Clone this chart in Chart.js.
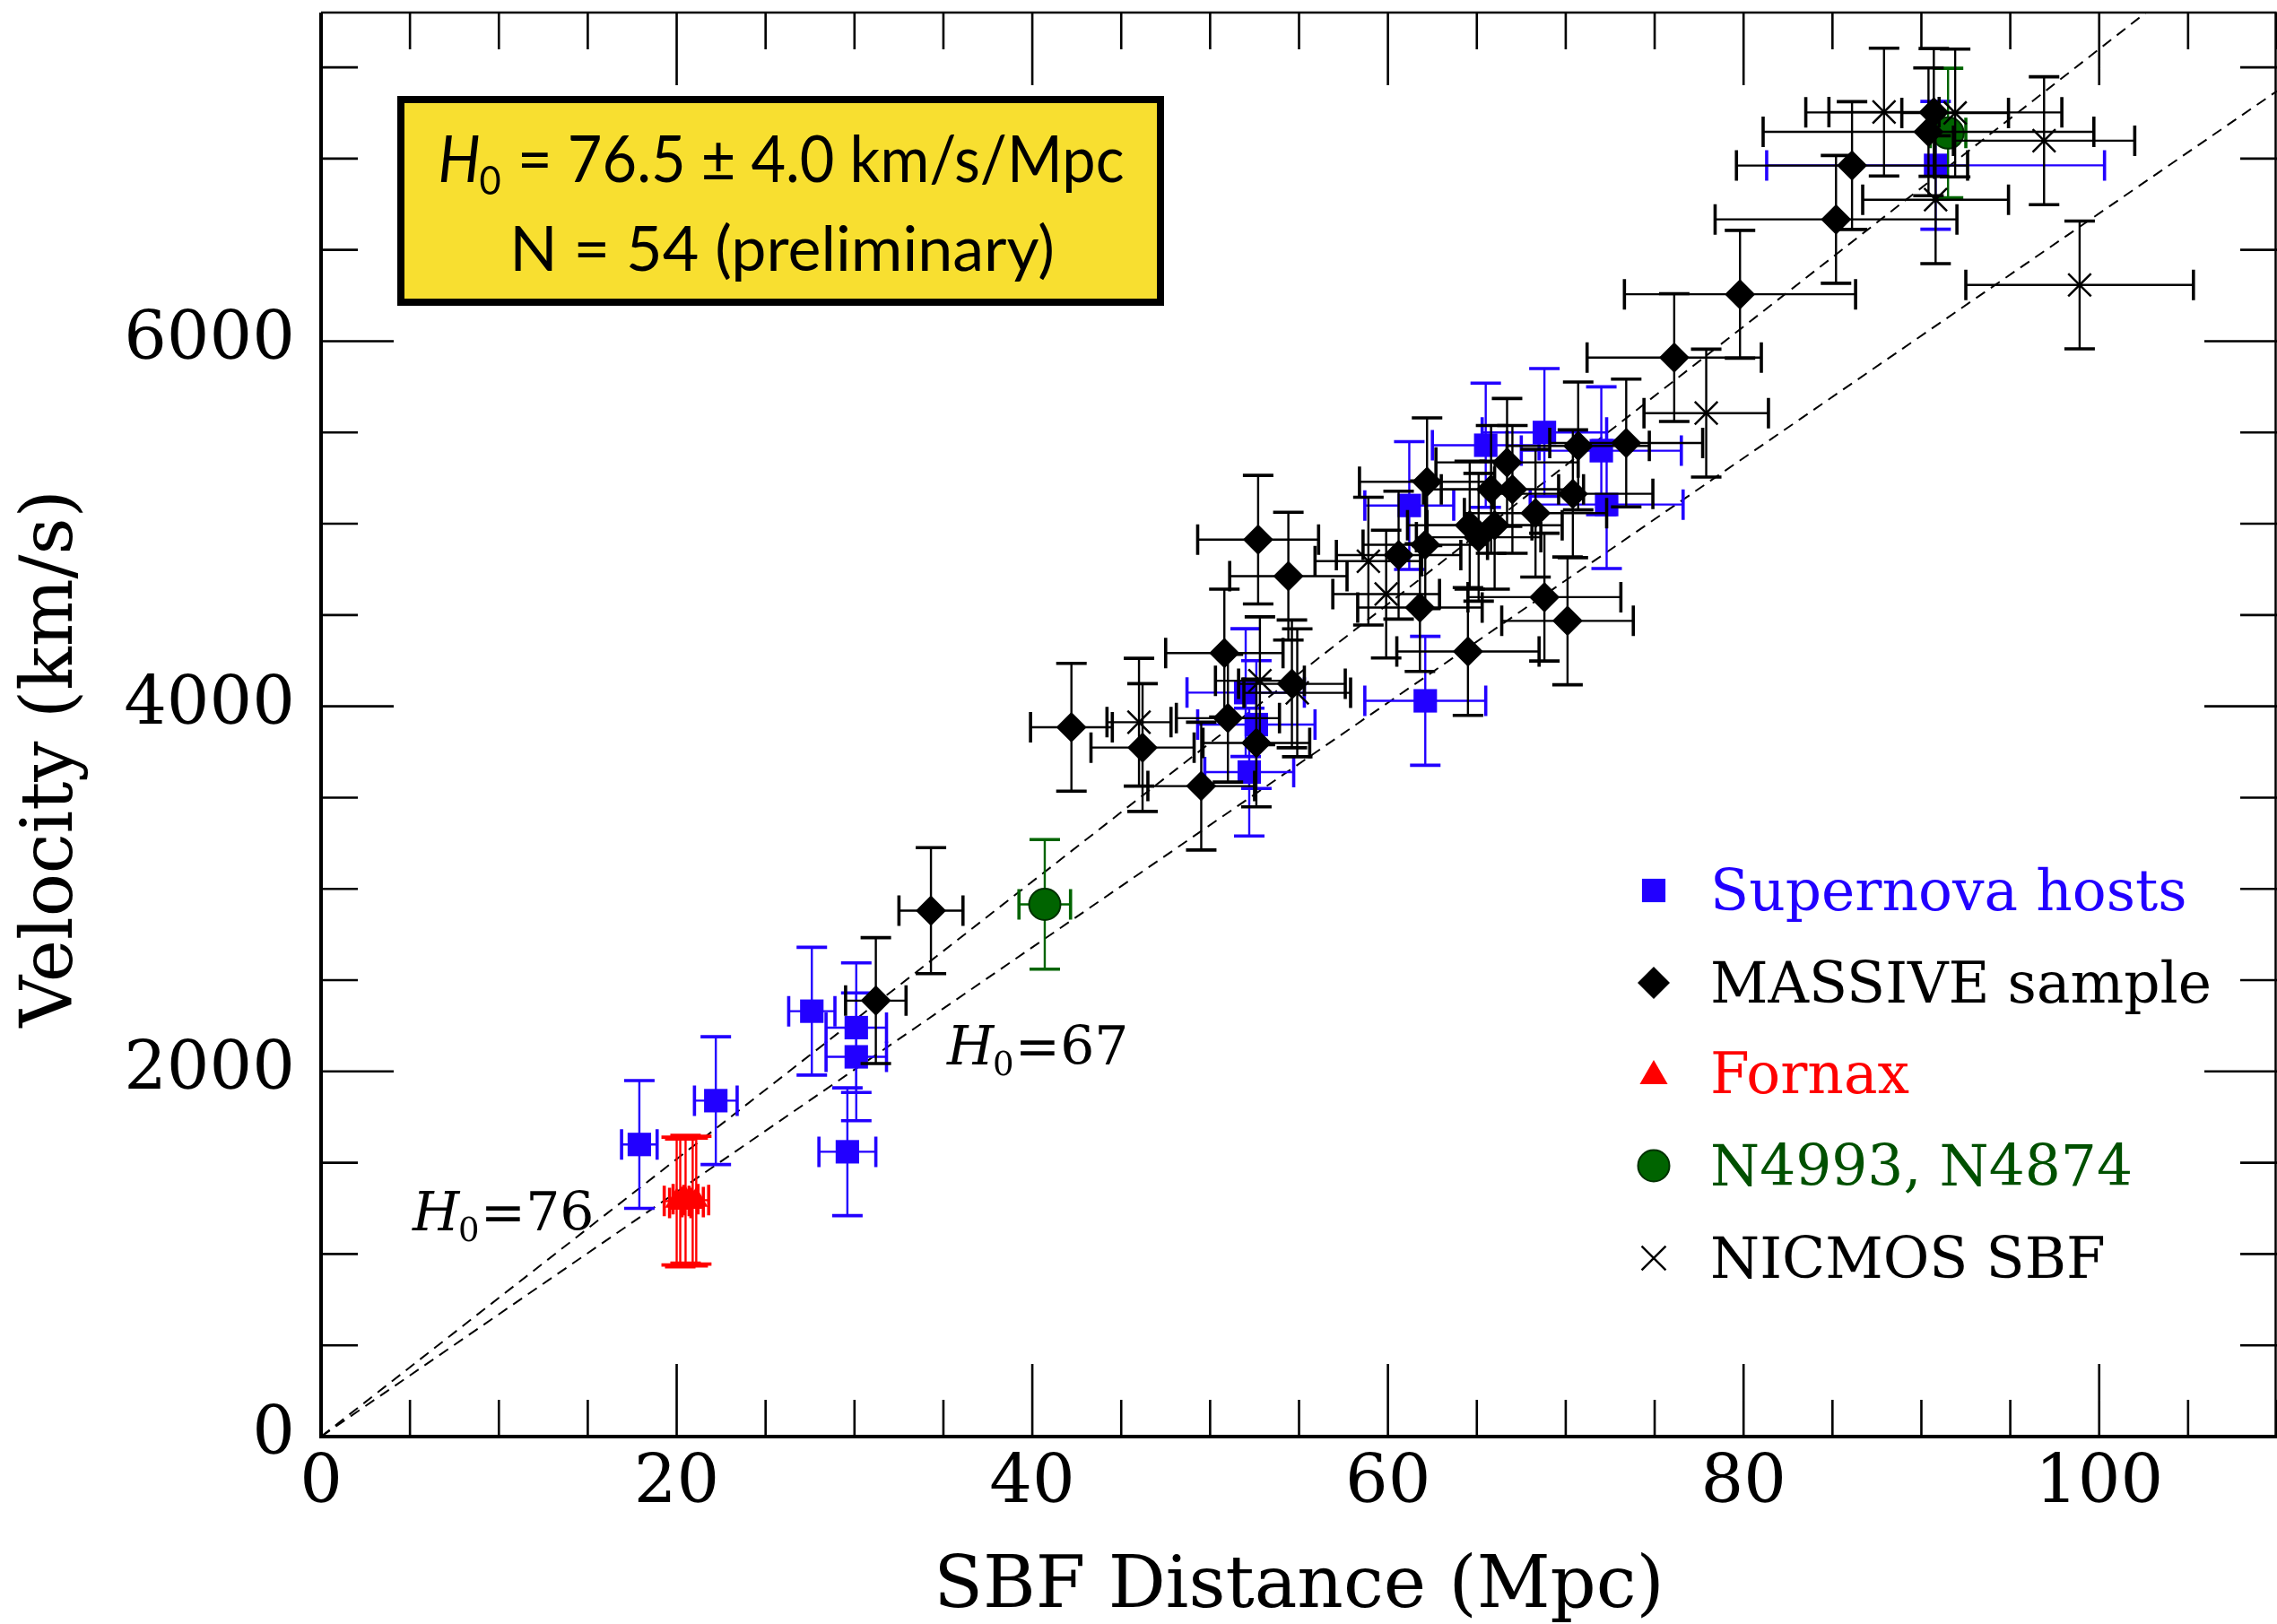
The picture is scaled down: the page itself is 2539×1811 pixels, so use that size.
<!DOCTYPE html>
<html>
<head>
<meta charset="utf-8">
<title>SBF Hubble diagram</title>
<script src="https://cdn.jsdelivr.net/npm/chart.js@4.4.0/dist/chart.umd.min.js"></script>
<style>
  html, body { margin: 0; padding: 0; background: #fff; overflow: hidden; }
  #wrap { width: 2539px; height: 1811px; position: relative; }
  canvas { display: block; }
</style>
</head>
<body>
<div id="wrap"><canvas id="myChart"></canvas></div>
<script>
// Supernova hosts (blue squares)
let snDist    = [17.9, 22.2, 27.6, 30.1, 30.1, 29.6, 52.0, 52.6, 52.2, 62.1, 61.2, 65.5, 68.8, 72.0, 72.3, 90.8]
let snVel     = [1600, 1840, 2330, 2240, 2080, 1560, 4075, 3900, 3640, 4030, 5100, 5430, 5500, 5400, 5105, 6963]
let snDistErr = [1.0, 1.2, 1.3, 1.7, 1.7, 1.6, 3.3, 3.3, 2.5, 3.4, 2.5, 3.0, 3.5, 4.5, 4.3, 9.5]
let snVelErr  = [350, 350, 350, 355, 350, 350, 350, 350, 350, 353, 350, 340, 350, 350, 350, 350]

// MASSIVE sample (black diamonds)
let msDist    = [31.2, 34.3, 42.2, 46.2, 49.5, 50.8, 51.0, 52.6, 52.7, 54.4, 54.6, 60.6, 61.8, 62.1, 62.2, 64.5, 64.6,
                 65.1, 66.0, 65.8, 66.7, 67.0, 68.3, 68.8, 70.1, 70.4, 70.7, 73.4, 76.1, 79.8, 85.2, 86.1, 90.4, 90.7]
let msVel     = [2388, 2881, 3885, 3774, 3563, 4292, 3935, 3799, 4913, 4713, 4123, 4828, 4541, 4885, 5230, 4300, 4992,
                 4926, 4992, 5188, 5336, 5188, 5058, 4598, 4468, 5164, 5426, 5442, 5910, 6257, 6667, 6962, 7147, 7253]
let msDistErr = [1.7, 1.8, 2.3, 2.9, 3.0, 3.3, 2.9, 3.0, 3.4, 3.3, 3.0, 3.5, 3.5, 3.5, 3.8, 4.0, 3.5,
                 3.5, 3.8, 3.8, 4.0, 4.0, 4.0, 4.3, 3.7, 4.5, 4.0, 4.3, 4.9, 6.5, 6.8, 6.5, 9.3, 7.2]
let msVelErr  = [345, 345, 350, 350, 350, 350, 350, 350, 352, 350, 350, 350, 350, 350, 350, 350, 350,
                 350, 350, 350, 350, 350, 350, 350, 350, 350, 350, 350, 350, 350, 350, 350, 350, 350]

// Fornax (red triangles)
let fxDist    = [20.0, 20.2, 20.5, 20.9, 21.1]
let fxVel     = [1290, 1280, 1300, 1285, 1295]
let fxDistErr = [0.7, 0.6, 0.7, 0.6, 0.7]
let fxVelErr  = [350, 350, 350, 350, 350]

// N4993, N4874 (green circles)
let grDist    = [40.7, 91.5]
let grVel     = [2915, 7140]
let grDistErr = [1.45, 1.0]
let grVelErr  = [355, 355]

// NICMOS SBF (crosses)
let nsDist    = [46.0, 52.8, 54.9, 58.9, 59.9, 77.9, 87.9, 91.9, 90.8, 96.9, 98.9]
let nsVel     = [3913, 4140, 4074, 4795, 4615, 5606, 7255, 7250, 6775, 7098, 6308]
let nsDistErr = [1.8, 2.5, 3.0, 3.0, 3.0, 3.5, 3.1, 3.0, 4.1, 5.1, 6.4]
let nsVelErr  = [350, 350, 350, 350, 350, 350, 350, 350, 350, 350, 350]

// Hubble lines and axes
let hubbleConstants = [76, 67]
let lineDist = [0, 110]
let xTickValues = [0, 20, 40, 60, 80, 100]
let yTickValues = [0, 2000, 4000, 6000]
let legendLabels = ["Supernova hosts", "MASSIVE sample", "Fornax", "N4993, N4874", "NICMOS SBF"]

const BLUE = "#2200ff"
const RED = "#ff0000"
const GREEN = "#006400"
const SERIF = "'DejaVu Serif', serif"

function toPoints(xs, ys) {
  return xs.map((x, i) => ({ x: x, y: ys[i] }))
}

// error bars drawn through the chart scales, just below each dataset's markers
const errorBars = {
  id: "errorBars",
  beforeDatasetDraw(chart, args) {
    let ds = chart.data.datasets[args.index]
    if (!ds.xErr) return
    let xs = chart.scales.x, ys = chart.scales.y, ctx = chart.ctx
    let cap = 17
    ctx.save()
    ctx.strokeStyle = ds.errColor
    ds.data.forEach((p, i) => {
      let px = xs.getPixelForValue(p.x), py = ys.getPixelForValue(p.y)
      let x0 = xs.getPixelForValue(p.x - ds.xErr[i]), x1 = xs.getPixelForValue(p.x + ds.xErr[i])
      let y0 = ys.getPixelForValue(p.y - ds.yErr[i]), y1 = ys.getPixelForValue(p.y + ds.yErr[i])
      ctx.lineWidth = 2.4
      ctx.beginPath()
      ctx.moveTo(x0, py); ctx.lineTo(x1, py)
      ctx.moveTo(px, y0); ctx.lineTo(px, y1)
      ctx.stroke()
      ctx.lineWidth = 3.6
      ctx.beginPath()
      ctx.moveTo(x0, py - cap); ctx.lineTo(x0, py + cap)
      ctx.moveTo(x1, py - cap); ctx.lineTo(x1, py + cap)
      ctx.moveTo(px - cap, y0); ctx.lineTo(px + cap, y0)
      ctx.moveTo(px - cap, y1); ctx.lineTo(px + cap, y1)
      ctx.stroke()
    })
    ctx.restore()
  }
}

// inward tick marks and the frame
const frame = {
  id: "frame",
  afterDatasetsDraw(chart) {
    let ctx = chart.ctx, a = chart.chartArea, x = chart.scales.x, y = chart.scales.y
    ctx.save()
    ctx.strokeStyle = "#000"
    ctx.lineWidth = 2.6
    ctx.beginPath()
    for (let v = 0; v <= 110; v += 5) {
      let px = x.getPixelForValue(v)
      let len = v % 20 === 0 ? 81 : 41
      ctx.moveTo(px, a.bottom); ctx.lineTo(px, a.bottom - len)
      ctx.moveTo(px, a.top); ctx.lineTo(px, a.top + len)
    }
    for (let v = 0; v <= 7800; v += 500) {
      let py = y.getPixelForValue(v)
      let len = v % 2000 === 0 ? 81 : 41
      ctx.moveTo(a.left, py); ctx.lineTo(a.left + len, py)
      ctx.moveTo(a.right, py); ctx.lineTo(a.right - len, py)
    }
    ctx.stroke()
    ctx.lineWidth = 2.5
    ctx.beginPath()
    ctx.moveTo(a.left, a.top); ctx.lineTo(a.right - 1.5, a.top); ctx.lineTo(a.right - 1.5, a.bottom)
    ctx.stroke()
    ctx.lineWidth = 4
    ctx.beginPath()
    ctx.moveTo(a.left, a.top); ctx.lineTo(a.left, a.bottom); ctx.lineTo(a.right, a.bottom)
    ctx.stroke()
    ctx.restore()
  }
}

function marker(ctx, style, x, y, r, fill, stroke, bw) {
  ctx.fillStyle = fill
  ctx.strokeStyle = stroke
  ctx.lineWidth = bw
  Chart.helpers.drawPoint(ctx, { pointStyle: style, radius: r, rotation: 0, borderWidth: bw }, x, y)
}

// H_0 label: italic H, subscript 0, then the rest upright; squeezed to maxW if given
function hLabel(ctx, x, y, size, family, rest, align, maxW) {
  let sub = Math.round(size * 0.62)
  ctx.font = "italic " + size + "px " + family
  let wH = ctx.measureText("H").width
  ctx.font = sub + "px " + family
  let w0 = ctx.measureText("0").width
  ctx.font = size + "px " + family
  let wR = ctx.measureText(rest).width
  let total = wH + w0 + wR
  let k = maxW && total > maxW ? maxW / total : 1
  ctx.save()
  ctx.translate(align === "center" ? x - total * k / 2 : x, y)
  ctx.scale(k, 1)
  ctx.textAlign = "left"
  ctx.textBaseline = "alphabetic"
  ctx.font = "italic " + size + "px " + family
  ctx.fillText("H", 0, 0)
  ctx.font = sub + "px " + family
  ctx.fillText("0", wH - size * 0.02, size * 0.2)
  ctx.font = size + "px " + family
  ctx.fillText(rest, wH + w0, 0)
  ctx.restore()
}

const annotations = {
  id: "annotations",
  afterDraw(chart) {
    let ctx = chart.ctx, a = chart.chartArea
    ctx.save()
    ctx.fillStyle = "#000"

    // axis titles
    ctx.font = "80px " + SERIF
    ctx.textAlign = "center"
    ctx.textBaseline = "alphabetic"
    ctx.fillText("SBF Distance (Mpc)", (a.left + a.right) / 2, 1792)
    ctx.save()
    ctx.translate(80, 846)
    ctx.rotate(-Math.PI / 2)
    ctx.fillText("Velocity (km/s)", 0, 0)
    ctx.restore()

    // line labels
    hLabel(ctx, 460, 1372, 60, SERIF, "=76", "left")
    hLabel(ctx, 1056, 1187, 60, SERIF, "=67", "left")

    // result box
    ctx.fillStyle = "#f8df30"
    ctx.fillRect(447, 111, 847, 226)
    ctx.strokeStyle = "#000"
    ctx.lineWidth = 8
    ctx.strokeRect(447, 111, 847, 226)
    ctx.fillStyle = "#000"
    hLabel(ctx, 871, 203, 72, "Lato, sans-serif", " = 76.5 \u00b1 4.0 km/s/Mpc", "center", 765)
    ctx.font = "70px Lato, sans-serif"
    ctx.textAlign = "center"
    ctx.fillText("N = 54 (preliminary)", 872, 302)

    // legend
    let rows = [993, 1096, 1197, 1300, 1403]
    let colors = [BLUE, "#000", RED, "#005000", "#000"]
    let mx = 1844, tx = 1907
    marker(ctx, "rect", mx, rows[0], 18.5, BLUE, BLUE, 0)
    marker(ctx, "rectRot", mx, rows[1], 18, "#000", "#000", 0)
    marker(ctx, "triangle", mx, rows[2] + 3, 18, RED, RED, 0)
    marker(ctx, "circle", mx, rows[3], 17.5, GREEN, "#003000", 2)
    marker(ctx, "crossRot", mx, rows[4], 19, "#000", "#000", 2.5)
    ctx.font = "63px " + SERIF
    ctx.textAlign = "left"
    ctx.textBaseline = "alphabetic"
    legendLabels.forEach((t, i) => {
      ctx.fillStyle = colors[i]
      ctx.fillText(t, tx, rows[i] + 22)
    })
    ctx.restore()
  }
}

let datasets = [
  {
    label: legendLabels[4], data: toPoints(nsDist, nsVel), xErr: nsDistErr, yErr: nsVelErr, errColor: "#000",
    pointStyle: "crossRot", pointRadius: 18, borderColor: "#000", backgroundColor: "#000", borderWidth: 2.5, order: 1
  },
  {
    label: legendLabels[1], data: toPoints(msDist, msVel), xErr: msDistErr, yErr: msVelErr, errColor: "#000",
    pointStyle: "rectRot", pointRadius: 17, borderColor: "#000", backgroundColor: "#000", borderWidth: 0, order: 2
  },
  {
    label: legendLabels[2], data: toPoints(fxDist, fxVel), xErr: fxDistErr, yErr: fxVelErr, errColor: RED,
    pointStyle: "triangle", pointRadius: 15, borderColor: RED, backgroundColor: RED, borderWidth: 0, order: 3
  },
  {
    label: legendLabels[3], data: toPoints(grDist, grVel), xErr: grDistErr, yErr: grVelErr, errColor: GREEN,
    pointStyle: "circle", pointRadius: 17.5, borderColor: "#003000", backgroundColor: GREEN, borderWidth: 2, order: 4
  },
  {
    label: legendLabels[0], data: toPoints(snDist, snVel), xErr: snDistErr, yErr: snVelErr, errColor: BLUE,
    pointStyle: "rect", pointRadius: 18.5, borderColor: BLUE, backgroundColor: BLUE, borderWidth: 0, order: 5
  }
]

// dashed Hubble-law lines from the origin
hubbleConstants.forEach(h => {
  datasets.push({
    label: "H0=" + h, type: "line", showLine: true,
    data: lineDist.map(d => ({ x: d, y: h * d })),
    borderColor: "#000", borderWidth: 2, borderDash: [12, 8], pointRadius: 0, fill: false, order: 10
  })
})

// keep the plot box fixed: no extra padding for overhanging tick labels
function noPad(s) {
  s.paddingLeft = 0; s.paddingRight = 0; s.paddingTop = 0; s.paddingBottom = 0
}

let ctx = document.getElementById("myChart").getContext("2d")
let myChart = new Chart(ctx, {
  type: "scatter",
  data: { datasets },
  plugins: [errorBars, frame, annotations],
  options: {
    responsive: true,
    maintainAspectRatio: false,
    animation: false,
    layout: { autoPadding: false, padding: { top: 14, right: 0, left: 0, bottom: 0 } },
    plugins: { legend: { display: false }, tooltip: { enabled: false } },
    scales: {
      x: {
        type: "linear", min: 0, max: 110,
        grid: { display: false, drawTicks: false },
        border: { display: false },
        afterFit: s => { s.height = 209; noPad(s) },
        afterBuildTicks: s => { s.ticks = xTickValues.map(v => ({ value: v })) },
        ticks: { padding: 16, color: "#000", maxRotation: 0, callback: v => String(v),
                 font: { family: "DejaVu Serif", size: 75, lineHeight: 1 } }
      },
      y: {
        type: "linear", min: 0, max: 7800,
        grid: { display: false, drawTicks: false },
        border: { display: false },
        afterFit: s => { s.width = 358; noPad(s) },
        afterBuildTicks: s => { s.ticks = yTickValues.map(v => ({ value: v })) },
        ticks: { padding: 29, color: "#000", callback: v => String(v),
                 font: { family: "DejaVu Serif", size: 75, lineHeight: 1 } }
      }
    }
  }
})
</script>
</body>
</html>
